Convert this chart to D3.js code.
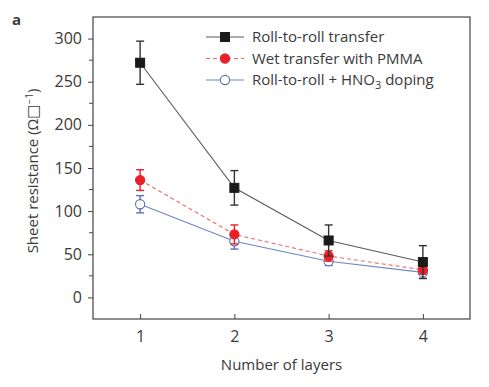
<!DOCTYPE html>
<html>
<head>
<meta charset="utf-8">
<script src="https://cdn.jsdelivr.net/npm/d3@7"></script>
<style>
  body { margin: 0; background: #fff; }
  svg text { font-family: "Open Sans", "DejaVu Sans", sans-serif; fill: #3a3a3a; }
</style>
</head>
<body>
<svg id="chart" width="489" height="387"></svg>
<script>
/* Sheet resistance vs number of graphene layers, three transfer methods */
var layers = [1, 2, 3, 4];
var yTicks = [0, 50, 100, 150, 200, 250, 300];
var rollValues = [272, 127, 66, 41];
var rollErrors = [25, 20, 18, 19];
var wetValues = [136, 73, 48, 32];
var wetErrors = [12, 11, 6, 5];
var dopedValues = [108, 65, 42, 29];
var dopedErrors = [10, 9, 5, 7];

var series = [
  { name: 'Roll-to-roll transfer', values: rollValues, errors: rollErrors,
    line: '#5a5a5a', dash: null, marker: 'square', fill: '#1a1a1a', stroke: '#1a1a1a', err: '#333' },
  { name: 'Wet transfer with PMMA', values: wetValues, errors: wetErrors,
    line: '#ec6b6b', dash: '4,3', marker: 'circle', fill: '#e8202a', stroke: '#e8202a', err: '#e8202a' },
  { name: 'Roll-to-roll + HNO3 doping', values: dopedValues, errors: dopedErrors,
    line: '#6f85c4', dash: null, marker: 'circle', fill: '#fff', stroke: '#5a6fb5', err: '#5a6fb5' }
];

(function () {
  var svg = d3.select('#chart');
  var m = { left: 93, top: 17, right: 470, bottom: 319 };

  var x = d3.scaleLinear().domain([0.5, 4.5]).range([m.left, m.right]);
  var y = d3.scaleLinear().domain([-25, 325]).range([m.bottom, m.top]);

  /* frame */
  svg.append('rect')
    .attr('x', m.left).attr('y', m.top)
    .attr('width', m.right - m.left).attr('height', m.bottom - m.top)
    .attr('fill', 'none').attr('stroke', '#444').attr('stroke-width', 1.2);

  /* y axis: outward ticks, minor every 25 */
  var yAxis = svg.append('g').attr('transform', 'translate(' + m.left + ',0)')
    .call(d3.axisLeft(y).tickValues(yTicks).tickSize(5).tickPadding(6));
  yAxis.select('.domain').remove();
  yAxis.selectAll('line').attr('stroke', '#444');
  yAxis.selectAll('text').style('font-size', '16px').attr('fill', '#3a3a3a');
  var minor = d3.range(-25, 326, 25).filter(function (v) { return yTicks.indexOf(v) < 0 && v > -25 && v < 325; });
  svg.append('g').selectAll('line').data(minor).enter().append('line')
    .attr('x1', m.left - 4).attr('x2', m.left)
    .attr('y1', function (d) { return y(d); }).attr('y2', function (d) { return y(d); })
    .attr('stroke', '#444');

  /* x axis: inward ticks */
  var xAxis = svg.append('g').attr('transform', 'translate(0,' + m.bottom + ')')
    .call(d3.axisBottom(x).tickValues(layers).tickFormat(d3.format('d')).tickSizeInner(-5).tickSizeOuter(0).tickPadding(12));
  xAxis.select('.domain').remove();
  xAxis.selectAll('line').attr('stroke', '#444');
  xAxis.selectAll('text').style('font-size', '16px').attr('fill', '#3a3a3a');

  /* axis titles */
  svg.append('text')
    .attr('x', (m.left + m.right) / 2).attr('y', 370)
    .attr('text-anchor', 'middle').style('font-size', '15px')
    .text('Number of layers');

  var yl = svg.append('text')
    .attr('transform', 'translate(38,' + ((m.top + m.bottom) / 2 + 3) + ') rotate(-90)')
    .attr('text-anchor', 'middle').style('font-size', '15px');
  yl.append('tspan').text('Sheet resistance (\u03A9\u25A1');
  yl.append('tspan').attr('dy', -5).style('font-size', '10px').text('\u22121');
  yl.append('tspan').attr('dy', 5).text(')');

  svg.append('text').attr('x', 12).attr('y', 25)
    .style('font-size', '15px').style('font-weight', 'bold').attr('fill', '#111').text('a');

  function drawMarker(g, s, cx, cy) {
    if (s.marker === 'square') {
      g.append('rect').attr('x', cx - 4.5).attr('y', cy - 4.5).attr('width', 9).attr('height', 9)
        .attr('fill', s.fill).attr('stroke', s.stroke);
    } else {
      g.append('circle').attr('cx', cx).attr('cy', cy).attr('r', 4.6)
        .attr('fill', s.fill).attr('stroke', s.stroke).attr('stroke-width', 1.1);
    }
  }

  var line = d3.line().x(function (d, i) { return x(layers[i]); }).y(function (d) { return y(d); });

  /* draw in reverse so roll-to-roll sits on top */
  series.slice().reverse().forEach(function (s) {
    var g = svg.append('g');
    g.append('path').datum(s.values).attr('d', line)
      .attr('fill', 'none').attr('stroke', s.line).attr('stroke-width', 1.1)
      .attr('stroke-dasharray', s.dash);
    s.values.forEach(function (v, i) {
      var cx = x(layers[i]), hi = y(v + s.errors[i]), lo = y(v - s.errors[i]);
      g.append('line').attr('x1', cx).attr('x2', cx).attr('y1', hi).attr('y2', lo)
        .attr('stroke', s.err).attr('stroke-width', 1.4);
      [hi, lo].forEach(function (yy) {
        g.append('line').attr('x1', cx - 4).attr('x2', cx + 4).attr('y1', yy).attr('y2', yy)
          .attr('stroke', s.err).attr('stroke-width', 1.4);
      });
      drawMarker(g, s, cx, y(v));
    });
  });

  /* legend */
  var leg = svg.append('g');
  series.forEach(function (s, i) {
    var ly = 37 + i * 21.5;
    leg.append('line').attr('x1', 206).attr('x2', 244).attr('y1', ly).attr('y2', ly)
      .attr('stroke', s.line).attr('stroke-width', 1.2).attr('stroke-dasharray', s.dash);
    drawMarker(leg, s, 225, ly);
    var t = leg.append('text').attr('x', 252).attr('y', ly + 5).style('font-size', '15px');
    if (i === 2) {
      t.append('tspan').text('Roll-to-roll + HNO');
      t.append('tspan').attr('dy', 4).style('font-size', '11px').text('3');
      t.append('tspan').attr('dy', -4).text(' doping');
    } else {
      t.text(s.name);
    }
  });
})();
</script>
</body>
</html>
